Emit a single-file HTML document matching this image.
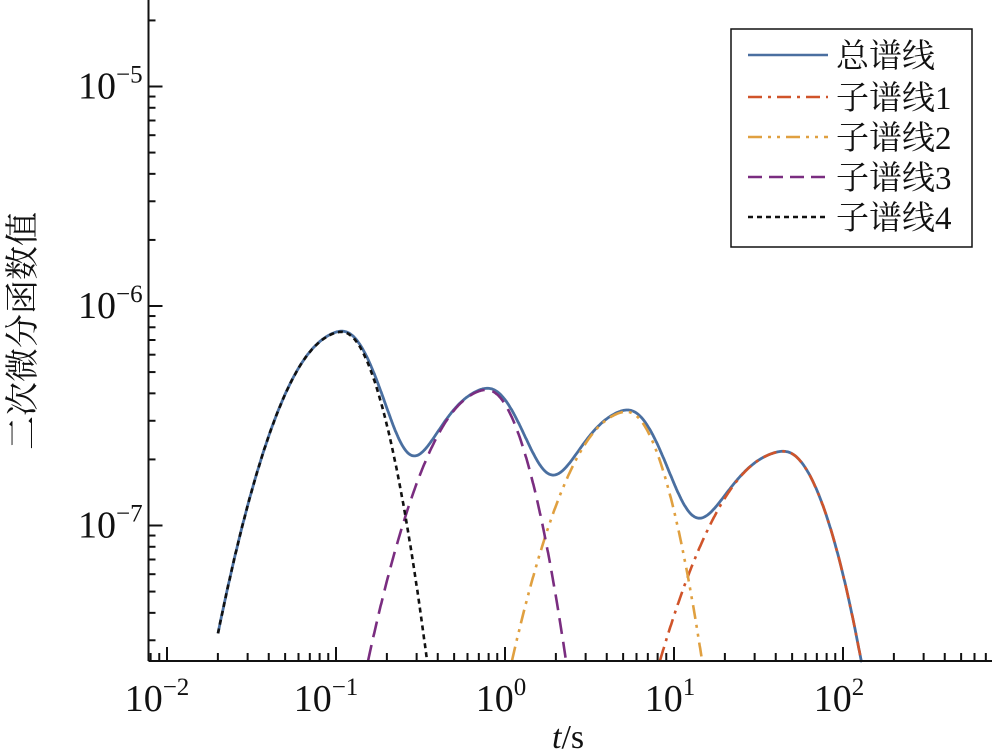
<!DOCTYPE html>
<html><head><meta charset="utf-8"><style>
html,body{margin:0;padding:0;background:#fff;}
svg text{font-family:"Liberation Serif","Noto Serif CJK SC",serif;fill:#111;}
</style></head><body>
<svg id="s" width="994" height="750" viewBox="0 0 994 750" xmlns="http://www.w3.org/2000/svg">
<g id="curves" fill="none" stroke-width="2.6"></g>
<g id="axes" stroke="#111" stroke-width="2" fill="none"></g>
<g id="labels"></g>
<rect x="731" y="29" width="241" height="218" fill="#fff" stroke="#111" stroke-width="1.5"/>
<line x1="748" y1="55" x2="828" y2="55" stroke="#4a6fa0" stroke-width="2.6"/>
<line x1="748" y1="97" x2="828" y2="97" stroke="#d0542a" stroke-width="2.6" stroke-dasharray="14,6,3,6"/>
<line x1="748" y1="137" x2="828" y2="137" stroke="#e0a040" stroke-width="2.6" stroke-dasharray="14,6,3,6,3,6"/>
<line x1="748" y1="177" x2="828" y2="177" stroke="#7a2d80" stroke-width="2.6" stroke-dasharray="14,7"/>
<line x1="748" y1="217" x2="828" y2="217" stroke="#111" stroke-width="2.6" stroke-dasharray="5,4"/>
<text x="836" y="67" font-size="33">总谱线</text>
<text x="836" y="109" font-size="33">子谱线1</text>
<text x="836" y="149" font-size="33">子谱线2</text>
<text x="836" y="189" font-size="33">子谱线3</text>
<text x="836" y="229" font-size="33">子谱线4</text>
<text x="552" y="748" font-size="34"><tspan font-style="italic">t</tspan>/s</text>
<text transform="translate(34,331) rotate(-90)" font-size="34" text-anchor="middle">二次微分函数值</text>
</svg>
<script>
var X0=505,DX=169,Y0=306,DY=219.5,BOT=661,L=148.5,R=992;
function px(u){return X0+DX*u;}
function py(l){return Y0-DY*(l+6);}
var subs=[
 {u0:1.645,p:-6.662,aL:1.8,aR:4.46,c:"#d0542a",d:"14,6,3,6"},
 {u0:0.716,p:-6.482,aL:2.49,aR:5.6,c:"#e0a040",d:"14,6,3,6,3,6"},
 {u0:-0.112,p:-6.382,aL:2.53,aR:5.52,c:"#7a2d80",d:"16,8"},
 {u0:-0.970,p:-6.118,aL:2.59,aR:5.79,c:"#111",d:"5,4"}];
function f(s,u){var du=u-s.u0;var w=1/(1+Math.exp(-du/0.05));
 var a=(1-w)*s.aL+w*s.aR;
 return Math.pow(10,s.p-a*du*du);}
var ns="http://www.w3.org/2000/svg",g=document.getElementById("curves");
function add(d,c,da){var p=document.createElementNS(ns,"path");p.setAttribute("d",d);p.setAttribute("stroke",c);if(da)p.setAttribute("stroke-dasharray",da);g.appendChild(p);}
var u1=(218-X0)/DX,u2=(862-X0)/DX;
subs.forEach(function(s){var d="",st=false;for(var u=u1;u<=u2+0.001;u+=0.003){var y=py(Math.log10(f(s,u)));if(y>BOT){if(st)break;continue;}d+=(st?"L":"M")+px(u).toFixed(1)+","+y.toFixed(1);st=true;}add(d,s.c,s.d);});
var d="";for(var u=u1;u<=u2;u+=0.003){var t=0;subs.forEach(function(s){t+=f(s,u);});var y=Math.min(py(Math.log10(t)),BOT);d+=(d?"L":"M")+px(u).toFixed(1)+","+y.toFixed(1);}
var p=document.createElementNS(ns,"path");p.setAttribute("d",d);p.setAttribute("stroke","#4a6fa0");p.setAttribute("stroke-width","2.8");g.insertBefore(p,g.firstChild);
var a=document.getElementById("axes"),lab=document.getElementById("labels");
function ln(x1,y1,x2,y2){var l=document.createElementNS(ns,"line");l.setAttribute("x1",x1);l.setAttribute("y1",y1);l.setAttribute("x2",x2);l.setAttribute("y2",y2);a.appendChild(l);}
ln(L,0,L,BOT);ln(L,BOT,R,BOT);
for(var e=-3;e<=2;e++)for(var m=1;m<10;m++){var x=px(e+Math.log10(m));if(x<L||x>R)continue;ln(x,BOT,x,BOT-(m==1?14:8));}
for(var e=-8;e<=-5;e++)for(var m=1;m<10;m++){var y=py(e+Math.log10(m));if(y<0||y>BOT)continue;ln(L,y,L+(m==1?14:7),y);}
function tl(x,y,e,anchor){var t=document.createElementNS(ns,"text");t.setAttribute("x",x);t.setAttribute("y",y);t.setAttribute("font-size","38");t.setAttribute("text-anchor",anchor);var s=e<0?'\u2212'+Math.abs(e):''+e;t.innerHTML='10<tspan font-size="25" dy="-16">'+s+'</tspan>';lab.appendChild(t);}
[-2,-1,0,1,2].forEach(function(e){tl(px(e)-(e<0?10:4),711,e,"middle");});
[-5,-6,-7].forEach(function(e){tl(78,py(e)+12,e,"start");});
</script>
</body></html>
